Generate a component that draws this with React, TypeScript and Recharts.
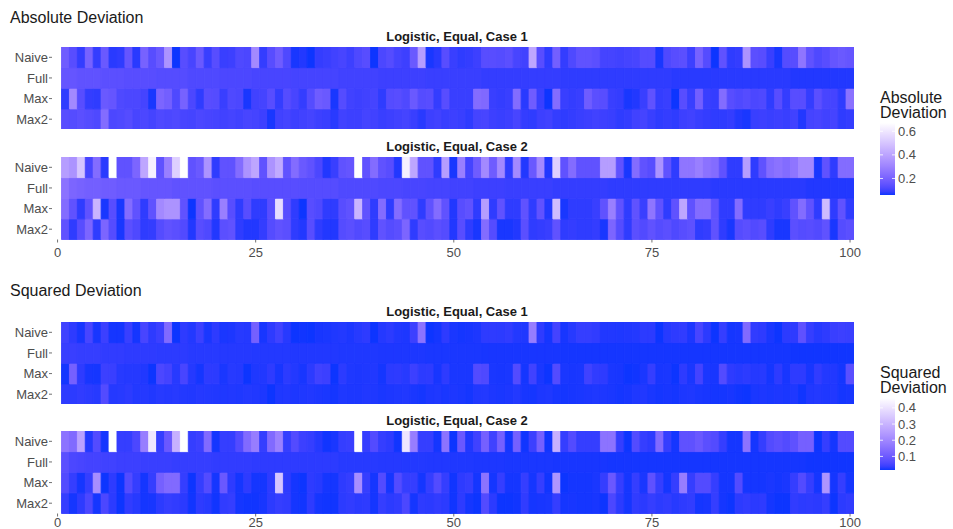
import React from 'react';
import { BarChart, Bar, XAxis, YAxis, Cell } from 'recharts';

// ---------- data ----------
const X_VALUES = Array.from({ length: 100 }, (_, i) => i + 1);
const ROW_LABELS = ['Naive', 'Full', 'Max', 'Max2'];
const X_TICKS = [0, 25, 50, 75, 100];
const ABS_LEGEND_TICKS = [0.2, 0.4, 0.6];
const SQ_LEGEND_TICKS = [0.1, 0.2, 0.3, 0.4];

// Absolute deviation, Case 1
const abs1Naive = [0.18,0.135,0.085,0.2,0.085,0.17,0.075,0.08,0.16,0.075,0.2,0.135,0.17,0.35,0.06,0.135,0.11,0.17,0.09,0.135,0.09,0.095,0.12,0.115,0.32,0.085,0.135,0.18,0.12,0.065,0.07,0.06,0.085,0.09,0.1,0.11,0.095,0.12,0.135,0.06,0.115,0.13,0.105,0.095,0.17,0.38,0.065,0.075,0.135,0.09,0.08,0.085,0.095,0.135,0.135,0.13,0.14,0.11,0.1,0.41,0.135,0.08,0.19,0.085,0.12,0.15,0.15,0.14,0.105,0.105,0.1,0.105,0.11,0.13,0.13,0.065,0.12,0.135,0.14,0.095,0.2,0.13,0.06,0.15,0.08,0.085,0.35,0.14,0.135,0.09,0.065,0.13,0.135,0.26,0.15,0.12,0.135,0.16,0.17,0.16];
const abs1Full = [0.16,0.16,0.15,0.15,0.15,0.14,0.14,0.14,0.135,0.135,0.135,0.135,0.13,0.13,0.13,0.13,0.12,0.12,0.12,0.12,0.115,0.115,0.115,0.115,0.11,0.11,0.11,0.11,0.11,0.105,0.105,0.105,0.105,0.105,0.105,0.1,0.1,0.1,0.1,0.1,0.095,0.095,0.095,0.095,0.095,0.095,0.09,0.09,0.09,0.09,0.09,0.09,0.09,0.085,0.085,0.085,0.085,0.085,0.085,0.085,0.085,0.085,0.085,0.08,0.08,0.08,0.08,0.08,0.08,0.08,0.08,0.08,0.08,0.08,0.08,0.08,0.08,0.075,0.075,0.075,0.075,0.075,0.075,0.075,0.075,0.075,0.075,0.075,0.075,0.075,0.075,0.075,0.07,0.07,0.07,0.07,0.07,0.07,0.07,0.07];
const abs1Max = [0.08,0.32,0.135,0.085,0.08,0.17,0.16,0.12,0.115,0.115,0.105,0.065,0.21,0.19,0.12,0.2,0.115,0.08,0.135,0.13,0.09,0.12,0.115,0.065,0.1,0.105,0.135,0.085,0.13,0.11,0.085,0.13,0.18,0.17,0.065,0.13,0.1,0.095,0.1,0.105,0.08,0.13,0.135,0.12,0.17,0.13,0.135,0.085,0.135,0.09,0.09,0.09,0.23,0.22,0.09,0.085,0.09,0.23,0.075,0.18,0.09,0.06,0.23,0.09,0.085,0.09,0.18,0.14,0.135,0.09,0.085,0.065,0.07,0.09,0.15,0.085,0.09,0.06,0.135,0.09,0.19,0.09,0.085,0.23,0.135,0.12,0.13,0.115,0.12,0.08,0.135,0.085,0.135,0.135,0.085,0.14,0.11,0.105,0.08,0.25];
const abs1Max2 = [0.135,0.13,0.14,0.13,0.12,0.23,0.115,0.12,0.13,0.11,0.115,0.105,0.12,0.115,0.12,0.11,0.105,0.115,0.11,0.105,0.1,0.105,0.1,0.11,0.105,0.095,0.065,0.1,0.105,0.095,0.1,0.105,0.095,0.09,0.075,0.1,0.095,0.095,0.105,0.1,0.09,0.095,0.1,0.105,0.09,0.075,0.095,0.1,0.09,0.095,0.09,0.08,0.105,0.11,0.095,0.09,0.095,0.11,0.085,0.08,0.095,0.1,0.085,0.08,0.085,0.09,0.095,0.1,0.095,0.09,0.08,0.085,0.1,0.105,0.09,0.08,0.085,0.08,0.095,0.1,0.09,0.085,0.08,0.08,0.085,0.07,0.065,0.09,0.095,0.09,0.095,0.09,0.1,0.07,0.105,0.11,0.1,0.105,0.08,0.085];

// Absolute deviation, Case 2
const abs2Naive = [0.38,0.35,0.5,0.11,0.23,0.075,0.67,0.15,0.15,0.21,0.41,0.63,0.15,0.29,0.53,0.67,0.15,0.17,0.35,0.08,0.15,0.15,0.23,0.35,0.41,0.15,0.35,0.42,0.15,0.23,0.17,0.15,0.115,0.07,0.09,0.15,0.16,0.67,0.15,0.23,0.15,0.135,0.07,0.63,0.41,0.15,0.15,0.08,0.38,0.065,0.29,0.105,0.18,0.32,0.18,0.32,0.08,0.32,0.07,0.17,0.32,0.07,0.53,0.15,0.23,0.15,0.15,0.15,0.38,0.38,0.15,0.065,0.23,0.15,0.135,0.35,0.15,0.08,0.26,0.26,0.29,0.25,0.23,0.15,0.08,0.08,0.38,0.08,0.15,0.23,0.25,0.23,0.26,0.32,0.32,0.065,0.15,0.08,0.23,0.23];
const abs2Full = [0.25,0.21,0.2,0.19,0.19,0.18,0.18,0.17,0.17,0.17,0.16,0.16,0.16,0.16,0.15,0.15,0.15,0.15,0.15,0.14,0.14,0.14,0.14,0.14,0.135,0.135,0.135,0.135,0.135,0.135,0.13,0.13,0.13,0.13,0.13,0.12,0.12,0.12,0.12,0.12,0.115,0.115,0.115,0.11,0.11,0.11,0.105,0.105,0.105,0.1,0.1,0.1,0.095,0.095,0.095,0.095,0.09,0.09,0.09,0.09,0.09,0.09,0.085,0.085,0.085,0.085,0.085,0.085,0.085,0.08,0.08,0.08,0.08,0.08,0.08,0.08,0.08,0.08,0.08,0.08,0.08,0.08,0.075,0.075,0.075,0.075,0.075,0.075,0.075,0.075,0.075,0.075,0.075,0.075,0.07,0.07,0.07,0.07,0.07,0.07];
const abs2Max = [0.23,0.15,0.08,0.15,0.45,0.065,0.135,0.065,0.23,0.15,0.08,0.15,0.32,0.35,0.35,0.15,0.06,0.15,0.23,0.08,0.29,0.135,0.08,0.135,0.08,0.08,0.135,0.57,0.135,0.08,0.06,0.135,0.12,0.08,0.08,0.135,0.15,0.45,0.15,0.08,0.23,0.08,0.23,0.15,0.15,0.08,0.15,0.23,0.15,0.07,0.135,0.15,0.08,0.38,0.08,0.15,0.08,0.08,0.15,0.08,0.15,0.07,0.47,0.065,0.08,0.08,0.08,0.09,0.15,0.29,0.15,0.08,0.15,0.09,0.26,0.15,0.08,0.15,0.41,0.15,0.23,0.23,0.15,0.08,0.08,0.23,0.08,0.08,0.08,0.09,0.08,0.09,0.15,0.23,0.15,0.08,0.47,0.08,0.15,0.08];
const abs2Max2 = [0.15,0.08,0.135,0.21,0.08,0.21,0.13,0.065,0.14,0.12,0.08,0.085,0.13,0.15,0.14,0.125,0.07,0.135,0.12,0.07,0.14,0.15,0.08,0.07,0.07,0.085,0.13,0.15,0.14,0.08,0.07,0.135,0.08,0.07,0.07,0.13,0.14,0.125,0.135,0.08,0.15,0.13,0.14,0.21,0.08,0.135,0.125,0.14,0.13,0.07,0.135,0.08,0.065,0.23,0.13,0.065,0.065,0.07,0.14,0.08,0.085,0.09,0.15,0.08,0.085,0.08,0.08,0.085,0.065,0.21,0.13,0.08,0.14,0.125,0.15,0.13,0.14,0.12,0.135,0.145,0.08,0.085,0.15,0.08,0.065,0.13,0.14,0.125,0.135,0.08,0.065,0.065,0.14,0.13,0.135,0.125,0.15,0.065,0.13,0.14];

// Squared deviation, Case 1
const sq1Naive = [0.044,0.03,0.019,0.052,0.019,0.041,0.018,0.018,0.038,0.018,0.052,0.03,0.041,0.135,0.016,0.03,0.024,0.041,0.02,0.03,0.02,0.021,0.026,0.025,0.114,0.019,0.03,0.044,0.026,0.016,0.017,0.016,0.019,0.02,0.022,0.024,0.021,0.026,0.03,0.016,0.025,0.029,0.023,0.021,0.041,0.156,0.016,0.018,0.03,0.02,0.018,0.019,0.021,0.03,0.03,0.029,0.032,0.024,0.022,0.18,0.03,0.018,0.048,0.019,0.026,0.035,0.035,0.032,0.023,0.023,0.022,0.023,0.024,0.029,0.029,0.016,0.026,0.03,0.032,0.021,0.052,0.029,0.016,0.035,0.018,0.019,0.135,0.032,0.03,0.02,0.016,0.029,0.03,0.08,0.035,0.026,0.03,0.038,0.041,0.038];
const sq1Full = [0.038,0.038,0.035,0.035,0.035,0.032,0.032,0.032,0.03,0.03,0.03,0.03,0.029,0.029,0.029,0.029,0.026,0.026,0.026,0.026,0.025,0.025,0.025,0.025,0.024,0.024,0.024,0.024,0.024,0.023,0.023,0.023,0.023,0.023,0.023,0.022,0.022,0.022,0.022,0.022,0.021,0.021,0.021,0.021,0.021,0.021,0.02,0.02,0.02,0.02,0.02,0.02,0.02,0.019,0.019,0.019,0.019,0.019,0.019,0.019,0.019,0.019,0.019,0.018,0.018,0.018,0.018,0.018,0.018,0.018,0.018,0.018,0.018,0.018,0.018,0.018,0.018,0.018,0.018,0.018,0.018,0.018,0.018,0.018,0.018,0.018,0.018,0.018,0.018,0.018,0.018,0.018,0.017,0.017,0.017,0.017,0.017,0.017,0.017,0.017];
const sq1Max = [0.018,0.114,0.03,0.019,0.018,0.041,0.038,0.026,0.025,0.025,0.023,0.016,0.056,0.048,0.026,0.052,0.025,0.018,0.03,0.029,0.02,0.026,0.025,0.016,0.022,0.023,0.03,0.019,0.029,0.024,0.019,0.029,0.044,0.041,0.016,0.029,0.022,0.021,0.022,0.023,0.018,0.029,0.03,0.026,0.041,0.029,0.03,0.019,0.03,0.02,0.02,0.02,0.065,0.06,0.02,0.019,0.02,0.065,0.018,0.044,0.02,0.016,0.065,0.02,0.019,0.02,0.044,0.032,0.03,0.02,0.019,0.016,0.017,0.02,0.035,0.019,0.02,0.016,0.03,0.02,0.048,0.02,0.019,0.065,0.03,0.026,0.029,0.025,0.026,0.018,0.03,0.019,0.03,0.03,0.019,0.032,0.024,0.023,0.018,0.075];
const sq1Max2 = [0.03,0.029,0.032,0.029,0.026,0.065,0.025,0.026,0.029,0.024,0.025,0.023,0.026,0.025,0.026,0.024,0.023,0.025,0.024,0.023,0.022,0.023,0.022,0.024,0.023,0.021,0.016,0.022,0.023,0.021,0.022,0.023,0.021,0.02,0.018,0.022,0.021,0.021,0.023,0.022,0.02,0.021,0.022,0.023,0.02,0.018,0.021,0.022,0.02,0.021,0.02,0.018,0.023,0.024,0.021,0.02,0.021,0.024,0.019,0.018,0.021,0.022,0.019,0.018,0.019,0.02,0.021,0.022,0.021,0.02,0.018,0.019,0.022,0.023,0.02,0.018,0.019,0.018,0.021,0.022,0.02,0.019,0.018,0.018,0.019,0.017,0.016,0.02,0.021,0.02,0.021,0.02,0.022,0.017,0.023,0.024,0.022,0.023,0.018,0.019];

// Squared deviation, Case 2
const sq2Naive = [0.156,0.135,0.262,0.024,0.065,0.018,0.461,0.035,0.035,0.056,0.18,0.409,0.035,0.096,0.293,0.461,0.035,0.041,0.135,0.018,0.035,0.035,0.065,0.135,0.18,0.035,0.135,0.188,0.035,0.065,0.041,0.035,0.025,0.017,0.02,0.035,0.038,0.461,0.035,0.065,0.035,0.03,0.017,0.409,0.18,0.035,0.035,0.018,0.156,0.016,0.096,0.023,0.044,0.114,0.044,0.114,0.018,0.114,0.017,0.041,0.114,0.017,0.293,0.035,0.065,0.035,0.035,0.035,0.156,0.156,0.035,0.016,0.065,0.035,0.03,0.135,0.035,0.018,0.08,0.08,0.096,0.075,0.065,0.035,0.018,0.018,0.156,0.018,0.035,0.065,0.075,0.065,0.08,0.114,0.114,0.016,0.035,0.018,0.065,0.065];
const sq2Full = [0.075,0.056,0.052,0.048,0.048,0.044,0.044,0.041,0.041,0.041,0.038,0.038,0.038,0.038,0.035,0.035,0.035,0.035,0.035,0.032,0.032,0.032,0.032,0.032,0.03,0.03,0.03,0.03,0.03,0.03,0.029,0.029,0.029,0.029,0.029,0.026,0.026,0.026,0.026,0.026,0.025,0.025,0.025,0.024,0.024,0.024,0.023,0.023,0.023,0.022,0.022,0.022,0.021,0.021,0.021,0.021,0.02,0.02,0.02,0.02,0.02,0.02,0.019,0.019,0.019,0.019,0.019,0.019,0.019,0.018,0.018,0.018,0.018,0.018,0.018,0.018,0.018,0.018,0.018,0.018,0.018,0.018,0.018,0.018,0.018,0.018,0.018,0.018,0.018,0.018,0.018,0.018,0.018,0.018,0.017,0.017,0.017,0.017,0.017,0.017];
const sq2Max = [0.065,0.035,0.018,0.035,0.215,0.016,0.03,0.016,0.065,0.035,0.018,0.035,0.114,0.135,0.135,0.035,0.016,0.035,0.065,0.018,0.096,0.03,0.018,0.03,0.018,0.018,0.03,0.337,0.03,0.018,0.016,0.03,0.026,0.018,0.018,0.03,0.035,0.215,0.035,0.018,0.065,0.018,0.065,0.035,0.035,0.018,0.035,0.065,0.035,0.017,0.03,0.035,0.018,0.156,0.018,0.035,0.018,0.018,0.035,0.018,0.035,0.017,0.233,0.016,0.018,0.018,0.018,0.02,0.035,0.096,0.035,0.018,0.035,0.02,0.08,0.035,0.018,0.035,0.18,0.035,0.065,0.065,0.035,0.018,0.018,0.065,0.018,0.018,0.018,0.02,0.018,0.02,0.035,0.065,0.035,0.018,0.233,0.018,0.035,0.018];
const sq2Max2 = [0.035,0.018,0.03,0.056,0.018,0.056,0.029,0.016,0.032,0.026,0.018,0.019,0.029,0.035,0.032,0.028,0.017,0.03,0.026,0.017,0.032,0.035,0.018,0.017,0.017,0.019,0.029,0.035,0.032,0.018,0.017,0.03,0.018,0.017,0.017,0.029,0.032,0.028,0.03,0.018,0.035,0.029,0.032,0.056,0.018,0.03,0.028,0.032,0.029,0.017,0.03,0.018,0.016,0.065,0.029,0.016,0.016,0.017,0.032,0.018,0.019,0.02,0.035,0.018,0.019,0.018,0.018,0.019,0.016,0.056,0.029,0.018,0.032,0.028,0.035,0.029,0.032,0.026,0.03,0.033,0.018,0.019,0.035,0.018,0.016,0.029,0.032,0.028,0.03,0.018,0.016,0.016,0.032,0.029,0.03,0.028,0.035,0.016,0.029,0.032];

// ---------- colour scale (Lab interpolation, low -> white) ----------
const LOW_COLOR = '#0D35FF';
const HIGH_COLOR = '#FFFFFF';

type Lab = [number, number, number];
function hexToRgb(h: string): [number, number, number] {
  const n = parseInt(h.slice(1), 16);
  return [(n >> 16) & 255, (n >> 8) & 255, n & 255];
}
const toLin = (c: number) => { c /= 255; return c <= 0.04045 ? c / 12.92 : Math.pow((c + 0.055) / 1.055, 2.4); };
const toSrgb = (c: number) => {
  const v = c <= 0.0031308 ? 12.92 * c : 1.055 * Math.pow(c, 1 / 2.4) - 0.055;
  return Math.round(Math.max(0, Math.min(1, v)) * 255);
};
const XN = 0.95047, YN = 1, ZN = 1.08883;
function rgbToLab(rgb: [number, number, number]): Lab {
  const [r, g, b] = rgb.map(toLin);
  const X = (0.4124564 * r + 0.3575761 * g + 0.1804375 * b) / XN;
  const Y = (0.2126729 * r + 0.7151522 * g + 0.072175 * b) / YN;
  const Z = (0.0193339 * r + 0.119192 * g + 0.9503041 * b) / ZN;
  const f = (t: number) => (t > 0.008856 ? Math.cbrt(t) : 7.787 * t + 16 / 116);
  const fx = f(X), fy = f(Y), fz = f(Z);
  return [116 * fy - 16, 500 * (fx - fy), 200 * (fy - fz)];
}
function labToHex([L, a, b]: Lab): string {
  const fy = (L + 16) / 116, fx = fy + a / 500, fz = fy - b / 200;
  const inv = (t: number) => (t * t * t > 0.008856 ? t * t * t : (t - 16 / 116) / 7.787);
  const X = inv(fx) * XN, Y = inv(fy) * YN, Z = inv(fz) * ZN;
  const r = 3.2404542 * X - 1.5371385 * Y - 0.4985314 * Z;
  const g = -0.969266 * X + 1.8760108 * Y + 0.041556 * Z;
  const bb = 0.0556434 * X - 0.2040259 * Y + 1.0572252 * Z;
  return '#' + [r, g, bb].map((c) => toSrgb(c).toString(16).padStart(2, '0')).join('');
}
const LOW_LAB = rgbToLab(hexToRgb(LOW_COLOR));
const HIGH_LAB = rgbToLab(hexToRgb(HIGH_COLOR));
function ramp(t: number): string {
  const u = Math.max(0, Math.min(1, t));
  return labToHex([0, 1, 2].map((k) => LOW_LAB[k] + (HIGH_LAB[k] - LOW_LAB[k]) * u) as Lab);
}
function makeScale(all: number[]) {
  const min = Math.min(...all), max = Math.max(...all);
  return { min, max, color: (v: number) => ramp((v - min) / (max - min)) };
}

const ABS_SCALE = makeScale([...abs1Naive, ...abs1Full, ...abs1Max, ...abs1Max2, ...abs2Naive, ...abs2Full, ...abs2Max, ...abs2Max2]);
const SQ_SCALE = makeScale([...sq1Naive, ...sq1Full, ...sq1Max, ...sq1Max2, ...sq2Naive, ...sq2Full, ...sq2Max, ...sq2Max2]);

// ---------- layout ----------
const FONT = '"Liberation Sans", Arial, Helvetica, sans-serif';
const TEXT = '#1a1a1a';
const AXIS_TEXT = '#4d4d4d';
const PANEL_H = 82.5;
const PLOT_RIGHT = 854;
const Y_AXIS_W = 52;

type Rows = { naive: number[]; full: number[]; max: number[]; max2: number[] };

const rowName = (v: number) => ROW_LABELS[3 - Math.floor(v)];

function Panel({ rows, color, top, showX, tickGap }: { rows: Rows; color: (v: number) => string; top: number; showX: boolean; tickGap: number }) {
  const data = X_VALUES.map((x) => ({ x, naive: 1, full: 1, max: 1, max2: 1 }));
  const h = PANEL_H + (showX ? 26 : 0);
  const series: (keyof Rows)[] = ['max2', 'max', 'full', 'naive'];
  return (
    <div style={{ position: 'absolute', left: 0, top, width: 953, height: h }}>
      <BarChart
        width={953}
        height={h}
        data={data}
        margin={{ top: 0, right: 953 - PLOT_RIGHT, bottom: 0, left: 0 }}
        barCategoryGap={0}
        barGap={0}
      >
        <XAxis
          type="number"
          dataKey="x"
          domain={[-0.7, 100.5]}
          allowDataOverflow
          ticks={X_TICKS}
          interval={0}
          hide={!showX}
          height={26}
          axisLine={false}
          tickLine={{ stroke: '#333333', strokeWidth: 0.7 }}
          tickSize={3}
          tickMargin={tickGap}
          tick={{ fontSize: 13, fill: AXIS_TEXT, fontFamily: FONT }}
        />
        <YAxis
          type="number"
          domain={[0, 4]}
          ticks={[0.5, 1.5, 2.5, 3.5]}
          interval={0}
          tickFormatter={rowName}
          width={Y_AXIS_W}
          axisLine={false}
          tickLine={{ stroke: '#333333', strokeWidth: 0.7 }}
          tickSize={3}
          tickMargin={1}
          tick={{ fontSize: 13, fill: AXIS_TEXT, fontFamily: FONT }}
        />
        {series.map((key) => (
          <Bar key={key} dataKey={key} stackId="s" isAnimationActive={false}>
            {rows[key].map((v, i) => (
              <Cell key={i} fill={color(v)} stroke={color(v)} strokeWidth={0.9} />
            ))}
          </Bar>
        ))}
      </BarChart>
    </div>
  );
}

function TextAt({ x, y, size, children, bold, center, width }: any) {
  return (
    <div
      style={{
        position: 'absolute',
        left: x,
        top: y - size / 2,
        width: width,
        fontSize: size,
        lineHeight: `${size}px`,
        fontFamily: FONT,
        fontWeight: bold ? 700 : 400,
        color: TEXT,
        whiteSpace: 'nowrap',
        textAlign: center ? 'center' : 'left',
      }}
    >
      {children}
    </div>
  );
}

function LegendTitle({ x, firstLineY, lines }: { x: number; firstLineY: number; lines: string[] }) {
  const lh = 15;
  return (
    <div
      style={{
        position: 'absolute',
        left: x,
        top: firstLineY - lh / 2,
        fontSize: 16,
        lineHeight: `${lh}px`,
        fontFamily: FONT,
        color: TEXT,
        whiteSpace: 'nowrap',
      }}
    >
      {lines.map((l, i) => (
        <div key={i}>{l}</div>
      ))}
    </div>
  );
}

function ColorBar({ scale, ticks, id, barTop, barBottom }: { scale: ReturnType<typeof makeScale>; ticks: number[]; id: string; barTop: number; barBottom: number }) {
  const x0 = 880, w = 15;
  const stops = Array.from({ length: 21 }, (_, k) => k / 20);
  const yOf = (v: number) => barBottom - ((v - scale.min) / (scale.max - scale.min)) * (barBottom - barTop);
  return (
    <svg style={{ position: 'absolute', left: 0, top: 0 }} width={953} height={529}>
      <defs>
        <linearGradient id={id} x1="0" y1="1" x2="0" y2="0">
          {stops.map((s) => (
            <stop key={s} offset={s} stopColor={ramp(s)} />
          ))}
        </linearGradient>
      </defs>
      <rect x={x0} y={barTop} width={w} height={barBottom - barTop} fill={`url(#${id})`} />
      {ticks.map((t) => (
        <g key={t}>
          <line x1={x0} x2={x0 + 3} y1={yOf(t)} y2={yOf(t)} stroke="#ffffff" strokeWidth={0.8} />
          <line x1={x0 + w - 3} x2={x0 + w} y1={yOf(t)} y2={yOf(t)} stroke="#ffffff" strokeWidth={0.8} />
          <text x={898} y={yOf(t)} dy="0.35em" fontSize={13} fill={AXIS_TEXT} fontFamily={FONT}>
            {t.toFixed(1)}
          </text>
        </g>
      ))}
    </svg>
  );
}

export default function App() {
  return (
    <div style={{ position: 'absolute', left: 0, top: 0, width: 953, height: 529, background: '#ffffff', overflow: 'hidden' }}>
      <TextAt x={10} y={18} size={16}>Absolute Deviation</TextAt>
      <TextAt x={0} y={36} size={13} bold center width={914}>Logistic, Equal, Case 1</TextAt>
      <Panel rows={{ naive: abs1Naive, full: abs1Full, max: abs1Max, max2: abs1Max2 }} color={ABS_SCALE.color} top={46.5} showX={false} tickGap={5} />
      <TextAt x={0} y={146} size={13} bold center width={914}>Logistic, Equal, Case 2</TextAt>
      <Panel rows={{ naive: abs2Naive, full: abs2Full, max: abs2Max, max2: abs2Max2 }} color={ABS_SCALE.color} top={156.5} showX={true} tickGap={5} />

      <TextAt x={10} y={291} size={16}>Squared Deviation</TextAt>
      <TextAt x={0} y={311} size={13} bold center width={914}>Logistic, Equal, Case 1</TextAt>
      <Panel rows={{ naive: sq1Naive, full: sq1Full, max: sq1Max, max2: sq1Max2 }} color={SQ_SCALE.color} top={321.7} showX={false} tickGap={5} />
      <TextAt x={0} y={420} size={13} bold center width={914}>Logistic, Equal, Case 2</TextAt>
      <Panel rows={{ naive: sq2Naive, full: sq2Full, max: sq2Max, max2: sq2Max2 }} color={SQ_SCALE.color} top={430.5} showX={true} tickGap={1} />

      <LegendTitle x={880} firstLineY={97} lines={['Absolute', 'Deviation']} />
      <ColorBar scale={ABS_SCALE} ticks={ABS_LEGEND_TICKS} id="absGrad" barTop={123} barBottom={195} />

      <LegendTitle x={880} firstLineY={372} lines={['Squared', 'Deviation']} />
      <ColorBar scale={SQ_SCALE} ticks={SQ_LEGEND_TICKS} id="sqGrad" barTop={398} barBottom={470} />
    </div>
  );
}
